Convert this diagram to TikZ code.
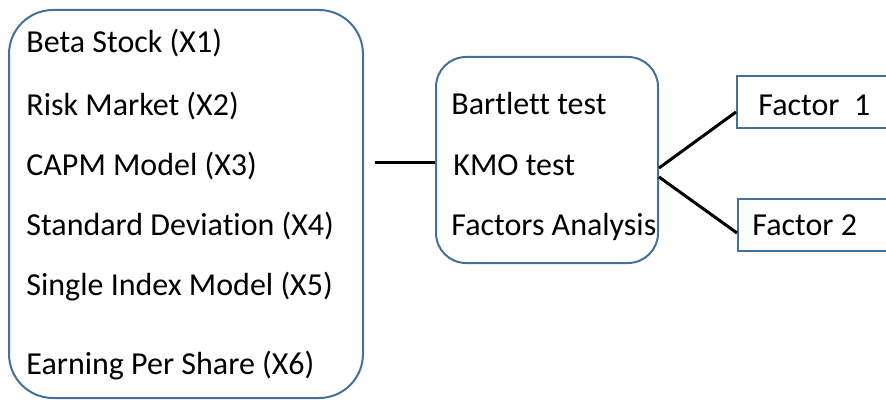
\documentclass[tikz,border=0pt]{standalone}
\usepackage{fontspec}
\setmainfont[Ligatures=NoCommon]{Carlito}
\usepackage{tikz}
\definecolor{boxblue}{HTML}{41719C}

\begin{document}
\begin{tikzpicture}[x=0.5pt,y=-0.5pt,
        box/.style={
          draw=boxblue,line width=1pt,rounded corners=22pt,inner sep=0pt
        },
        facbox/.style={
          draw=boxblue,line width=1pt,inner sep=0pt,
          minimum width=90pt,minimum height=26pt
        },
        txt/.style={anchor=base west,inner sep=0pt,font=\fontsize{16pt}{18pt}\selectfont},
        link/.style={line width=1.5pt}
      ]
      \useasboundingbox (0,0) rectangle (886,401);
      \clip (0,0) rectangle (886,401);
      \node [box,minimum width=177pt,minimum height=194pt] (vars) at (186,204) {};
      \node [box,rounded corners=15pt,minimum width=111pt,minimum height=103pt] (tests) at (547,160) {};
      \node [facbox] (f1) at (827,102) {};
      \node [facbox] (f2) at (828,224.5) {};
      \node [txt] (x1) at (26,53) {Beta Stock (X1)};
      \node [txt] (x2) at (26,115) {Risk Market (X2)};
      \node [txt] (x3) at (26,175) {CAPM Model (X3)};
      \node [txt] (x4) at (26,235) {Standard Deviation (X4)};
      \node [txt] (x5) at (26,295) {Single Index Model (X5)};
      \node [txt] (x6) at (26,374) {Earning Per Share (X6)};
      \node [txt] (bt) at (451,114) {Bartlett test};
      \node [txt] (kmo) at (453,175) {KMO test};
      \node [txt] (fa) at (451,235) {Factors Analysis};
      \node [txt] (t1) at (758,115) {Factor\ \ 1};
      \node [txt] (t2) at (752,235) {Factor 2};
      \draw [link,shorten <=5.5pt] (vars.east |- 0,162) -- (tests.west |- 0,162);
      \draw [link] (tests.east |- 0,168) -- (f1.west |- 0,112);
      \draw [link] (tests.east |- 0,177) -- (f2.west |- 0,233);
    \end{tikzpicture}
\end{document}
